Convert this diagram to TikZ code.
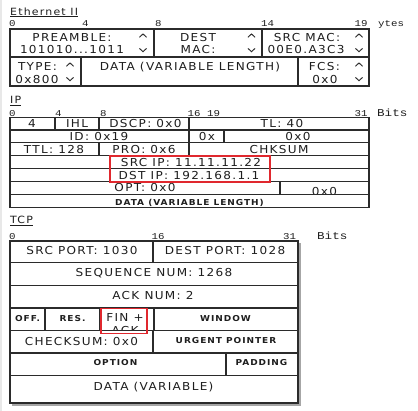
\documentclass[tikz,border=0pt]{standalone}
\usepackage{fontspec}
\setmainfont{DejaVu Sans}
\newfontfamily\pkf[FakeStretch=1.1,LetterSpace=12]{DejaVu Sans}
\newfontfamily\scf[FakeStretch=1.2]{Liberation Mono}
\definecolor{lnc}{HTML}{2B2B2B}
\definecolor{txc}{HTML}{1E1E1E}
\definecolor{hlc}{HTML}{E0282E}
\tikzset{
  cell/.style={draw=lnc,line width=1.3bp},
  bt/.style={font=\pkf\fontsize{11}{12}\selectfont,text=txc,inner sep=0pt,anchor=base},
  st/.style={font=\pkf\bfseries\fontsize{8.2}{9}\selectfont,text=txc,inner sep=0pt,anchor=base},
  sc/.style={font=\scf\fontsize{9}{10}\selectfont,text=txc,inner sep=0pt,anchor=base west},
  bits/.style={font=\scf\fontsize{10.5}{12}\selectfont,text=txc,inner sep=0pt,anchor=base west},
  ttl/.style={font=\pkf\fontsize{10}{12}\selectfont,text=txc,inner sep=0pt,anchor=base west},
  uline/.style={draw=txc,line width=0.8bp},
  hl/.style={draw=hlc,line width=1.6bp},
  spin/.style={draw=lnc,line width=0.9bp,line join=miter}
}
\newcommand{\spinup}[2]{\draw[spin] (#1-3.5,#2+1.8) -- (#1,#2-1.6) -- (#1+3.5,#2+1.8);}
\newcommand{\spindn}[2]{\draw[spin] (#1-3.5,#2-1.6) -- (#1,#2+1.8) -- (#1+3.5,#2-1.6);}
\begin{document}
\begin{tikzpicture}[x=1bp,y=-1bp]
\useasboundingbox[fill=white] (0,0) rectangle (418,411);
\fill[black!9] (0,0) rectangle (2.5,411);

% ---------------- Ethernet II ----------------
\node[ttl] (ethT) at (10,15) {Ethernet II};
\draw[uline] ([yshift=-1.6bp]ethT.base west) -- ([yshift=-1.6bp]ethT.base east);
\node[sc] (e0) at (9,26) {0};
\node[sc] (e4) at (82,26) {4};
\node[sc] (e8) at (155,26) {8};
\node[sc] (e14) at (261,26) {14};
\node[sc] (e19) at (354.5,26) {19};
\node[sc] (eyt) at (378,26) {ytes};

\node[bt] (pre1) at (72,41) {PREAMBLE:};
\node[bt] (pre2) at (72,53.5) {101010...1011};
\node[bt] (dst1) at (198,41) {DEST};
\node[bt] (dst2) at (198,53.5) {MAC:};
\node[bt] (src1) at (307,41) {SRC MAC:};
\node[bt] (src2) at (306,53.5) {00E0.A3C3};
\node[bt] (typ1) at (37.5,70.5) {TYPE:};
\node[bt] (typ2) at (37,83) {0x800};
\node[bt] (edat) at (190,70.5) {DATA (VARIABLE LENGTH)};
\node[bt] (fcs1) at (324.5,70.5) {FCS:};
\node[bt] (fcs2) at (325,83) {0x0};

\spinup{143}{35.5}\spindn{143}{50}
\spinup{251.5}{35.5}\spindn{251.5}{50}
\spinup{359}{35.5}\spindn{359}{50}
\spinup{70}{64.5}\spindn{70}{79}
\spinup{359}{64.5}\spindn{359}{79}

\draw[cell] (10,29) rectangle (369,86);
\draw[cell] (10,57) -- (369,57);
\draw[cell] (154,29) -- (154,57);
\draw[cell] (262,29) -- (262,57);
\draw[cell] (81,57) -- (81,86);
\draw[cell] (298,57) -- (298,86);

% ---------------- IP ----------------
\node[ttl] (ipT) at (10,103.5) {IP};
\draw[uline] ([yshift=-1.6bp]ipT.base west) -- ([yshift=-1.6bp]ipT.base east);
\node[sc] (i0) at (9,116) {0};
\node[sc] (i4) at (55,116) {4};
\node[sc] (i8) at (100,116) {8};
\node[sc] (i16) at (187.5,116) {16 19};
\node[sc] (i31) at (354.5,116) {31};
\node[bits] (ibits) at (377,116) {Bits};

\node[bt] (ver) at (32,127.5) {4};
\node[bt] (ihl) at (77,127.5) {IHL};
\node[bt] (dscp) at (145.5,127.5) {DSCP: 0x0};
\node[bt] (tl) at (282,127.5) {TL: 40};
\node[bt] (id) at (99,140) {ID: 0x19};
\node[bt] (flg) at (207,140) {0x};
\node[bt] (fo) at (298,140) {0x0};
\node[bt] (ttl) at (54,153) {TTL: 128};
\node[bt] (pro) at (144,153) {PRO: 0x6};
\node[bt] (chk) at (279,153) {CHKSUM};
\node[bt] (sip) at (191,166) {SRC IP: 11.11.11.22};
\node[bt] (dip) at (189,179) {DST IP: 192.168.1.1};
\node[bt] (opt) at (145,191.5) {OPT: 0x0};
\begin{scope}
\clip (280,181.7) rectangle (369,194.3);
\node[bt] (pad) at (324.5,195.3) {0x0};
\end{scope}
\node[st] (idat) at (189.5,205) {DATA (VARIABLE LENGTH)};

\draw[cell] (10,117.5) rectangle (369,207.3);
\foreach \yy in {130,142.7,155.7,168.7,181.7,194.3} \draw[cell] (10,\yy) -- (369,\yy);
\draw[cell] (55,117.5) -- (55,130);
\draw[cell] (99,117.5) -- (99,130);
\draw[cell] (189,117.5) -- (189,130);
\draw[cell] (189,130) -- (189,142.7);
\draw[cell] (224,130) -- (224,142.7);
\draw[cell] (99,142.7) -- (99,155.7);
\draw[cell] (189,142.7) -- (189,155.7);
\draw[cell] (280,181.7) -- (280,194.3);
\draw[hl] (110,155.7) rectangle (270,181.7);

% ---------------- TCP ----------------
\node[ttl] (tcpT) at (10,223.5) {TCP};
\draw[uline] ([yshift=-1.6bp]tcpT.base west) -- ([yshift=-1.6bp]tcpT.base east);
\node[sc] (t0) at (9,239) {0};
\node[sc] (t16) at (151.5,239) {16};
\node[sc] (t31) at (283,239) {31};
\node[bits] (tbits) at (317,239) {Bits};

\fill[black!35] (298,243) rectangle (300.5,405.5);
\fill[black!35] (12,403) rectangle (300.5,405.5);

\node[bt] (sp) at (82,254) {SRC PORT: 1030};
\node[bt] (dp) at (225,254) {DEST PORT: 1028};
\node[bt] (seq) at (154,276.5) {SEQUENCE NUM: 1268};
\node[bt] (ack) at (153,299.5) {ACK NUM: 2};
\node[st] (off) at (27.5,321) {OFF.};
\node[st] (res) at (72.5,321) {RES.};
\begin{scope}
\clip (100,308) rectangle (154,330.5);
\node[bt] (fin) at (125,321.5) {FIN +};
\node[bt] (fack) at (125,334) {ACK};
\end{scope}
\node[st] (win) at (225.5,321) {WINDOW};
\node[bt] (tchk) at (81.5,345) {CHECKSUM: 0x0};
\node[st] (urg) at (226,343.5) {URGENT POINTER};
\node[st] (topt) at (115.5,365.5) {OPTION};
\node[st] (tpad) at (261.5,365.5) {PADDING};
\node[bt] (tdat) at (153.5,390) {DATA (VARIABLE)};

\draw[cell] (10,241) rectangle (298,403);
\foreach \yy in {262.7,285.3,308,330.5,353,375.7} \draw[cell] (10,\yy) -- (298,\yy);
\draw[cell] (153,241) -- (153,262.7);
\draw[cell] (45,308) -- (45,330.5);
\draw[cell] (100,308) -- (100,330.5);
\draw[cell] (154,308) -- (154,330.5);
\draw[cell] (153,330.5) -- (153,353);
\draw[cell] (226,353) -- (226,375.7);
\draw[hl] (101,308.3) rectangle (146.7,333.3);
\end{tikzpicture}
\end{document}
